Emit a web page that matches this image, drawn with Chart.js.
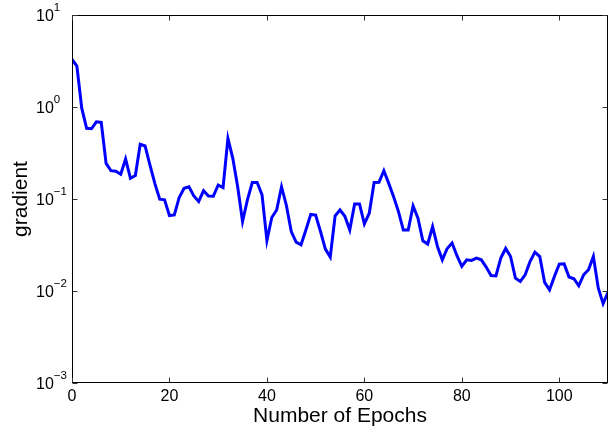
<!DOCTYPE html>
<html>
<head>
<meta charset="utf-8">
<script src="https://cdn.jsdelivr.net/npm/chart.js@4/dist/chart.umd.min.js"></script>
<style>
  html, body { margin: 0; padding: 0; background: #fff; }
  #gradientChart { display: block; }
</style>
</head>
<body>
<canvas id="gradientChart" width="613" height="431"></canvas>
<script>
// gradient norm per epoch
const gradient = [
  3.3, 2.78, 0.97, 0.586, 0.58, 0.69, 0.68, 0.244, 0.203, 0.2,
  0.186, 0.272, 0.168, 0.18, 0.393, 0.377, 0.234, 0.148, 0.0995, 0.098,
  0.066, 0.067, 0.104, 0.131, 0.136, 0.108, 0.094, 0.123, 0.108, 0.107,
  0.142, 0.133, 0.456, 0.277, 0.136, 0.057, 0.098, 0.151, 0.151, 0.111,
  0.0354, 0.063, 0.076, 0.136, 0.085, 0.0443, 0.034, 0.0318, 0.046, 0.068,
  0.067, 0.0443, 0.0285, 0.0234, 0.0656, 0.076, 0.065, 0.046, 0.0885, 0.0885,
  0.0537, 0.07, 0.151, 0.152, 0.203, 0.148, 0.106, 0.073, 0.046, 0.046,
  0.084, 0.062, 0.0351, 0.0324, 0.05, 0.0305, 0.0218, 0.029, 0.0332, 0.0242,
  0.0185, 0.0218, 0.0215, 0.0228, 0.0218, 0.0182, 0.0147, 0.0146, 0.0228, 0.029,
  0.0237, 0.0138, 0.0127, 0.015, 0.0209, 0.0265, 0.0237, 0.0124, 0.0103, 0.0144,
  0.0196, 0.0197, 0.0142, 0.0136, 0.0114, 0.015, 0.017, 0.0237, 0.0108, 0.0073,
  0.0097
];
const epochs = gradient.map((_, i) => i);

const xTicks = [0, 20, 40, 60, 80, 100];
const yTicks = [0.001, 0.01, 0.1, 1, 10];
const yTickExponents = ['\u22123', '\u22122', '\u22121', '0', '1'];

const FONT = '"Liberation Sans", Arial, Helvetica, sans-serif';

// MATLAB-like box with inward ticks and 10^n labels
const axesBox = {
  id: 'axesBox',
  afterDraw(chart) {
    const { ctx, chartArea: a, scales } = chart;
    const x = scales.x, y = scales.y;
    const L = Math.round(a.left) + 0.5, R = Math.round(a.right) - 0.5;
    const T = Math.round(a.top) + 0.5, B = Math.round(a.bottom) - 0.5;
    const tl = 5;

    ctx.save();
    ctx.strokeStyle = '#000';
    ctx.lineWidth = 1;
    ctx.strokeRect(L, T, R - L, B - T);

    ctx.strokeStyle = '#333';
    ctx.beginPath();
    xTicks.forEach(v => {
      const px = Math.round(x.getPixelForValue(v)) + 0.5;
      ctx.moveTo(px, B); ctx.lineTo(px, B - tl);
      ctx.moveTo(px, T); ctx.lineTo(px, T + tl);
    });
    yTicks.forEach(v => {
      const py = Math.round(y.getPixelForValue(v)) + 0.5;
      ctx.moveTo(L, py); ctx.lineTo(L + tl, py);
      ctx.moveTo(R, py); ctx.lineTo(R - tl, py);
    });
    ctx.stroke();

    ctx.fillStyle = '#000';
    ctx.textAlign = 'left';
    ctx.textBaseline = 'alphabetic';
    yTicks.forEach((v, i) => {
      const py = y.getPixelForValue(v);
      ctx.font = '16px ' + FONT;
      ctx.fillText('10', 36, py + 6);
      const w = ctx.measureText('10').width;
      ctx.font = '11.5px ' + FONT;
      ctx.fillText(yTickExponents[i], 36 + w, py - 4);
    });
    ctx.restore();
  }
};

new Chart(document.getElementById('gradientChart'), {
  type: 'line',
  data: {
    labels: epochs,
    datasets: [{
      data: gradient.map((g, i) => ({ x: epochs[i], y: g })),
      borderColor: '#0000ff',
      borderWidth: 3,
      pointRadius: 0,
      tension: 0,
      fill: false
    }]
  },
  options: {
    responsive: false,
    animation: false,
    devicePixelRatio: 1,
    layout: { padding: { top: 15, right: 5, left: 0, bottom: 0 } },
    plugins: { legend: { display: false }, tooltip: { enabled: false } },
    scales: {
      x: {
        type: 'linear',
        min: 0,
        max: 110,
        afterBuildTicks: s => { s.ticks = xTicks.map(v => ({ value: v })); },
        afterFit: s => { s.height = 48; },
        grid: { display: false, drawTicks: false },
        border: { display: false },
        ticks: { color: '#000', padding: 4, maxRotation: 0, font: { family: FONT, size: 16 } },
        title: {
          display: true,
          text: 'Number of Epochs',
          color: '#000',
          font: { family: FONT, size: 21, lineHeight: 1.2 },
          padding: { top: 0, bottom: 2 }
        }
      },
      y: {
        type: 'logarithmic',
        min: 0.001,
        max: 10,
        afterBuildTicks: s => { s.ticks = yTicks.map(v => ({ value: v })); },
        afterFit: s => { s.width = 72; },
        grid: { display: false, drawTicks: false },
        border: { display: false },
        ticks: { display: false },
        title: {
          display: true,
          text: 'gradient',
          color: '#000',
          font: { family: FONT, size: 21, lineHeight: 1.2 },
          padding: { top: 9, bottom: 0 }
        }
      }
    }
  },
  plugins: [axesBox]
});
</script>
</body>
</html>
